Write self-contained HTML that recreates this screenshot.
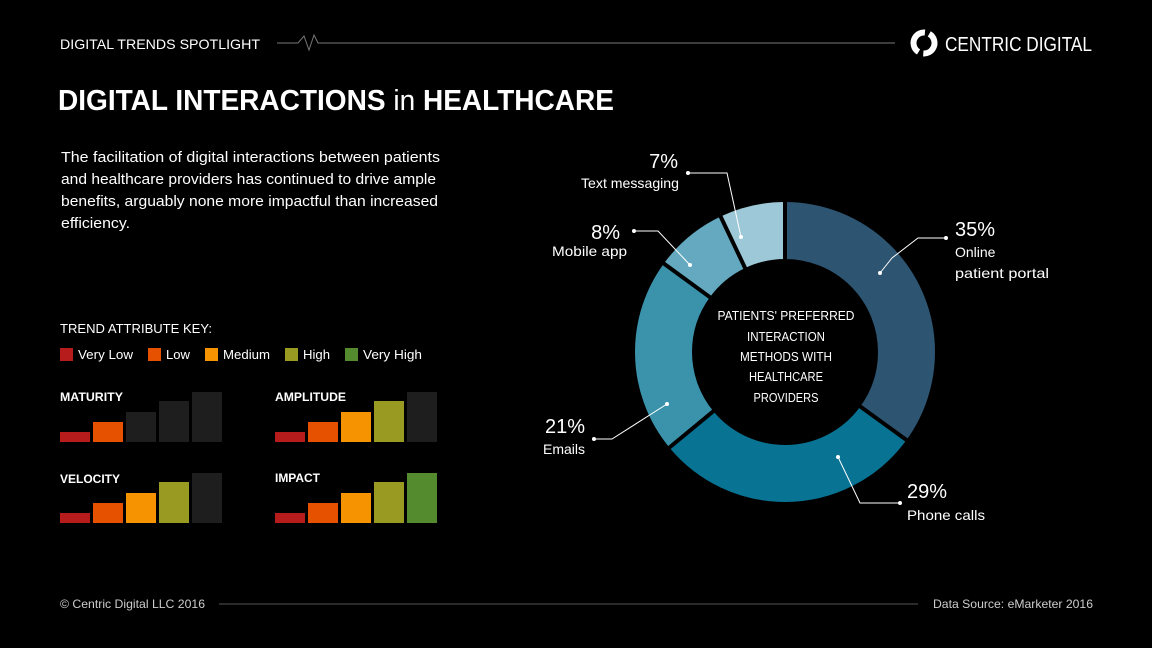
<!DOCTYPE html>
<html><head><meta charset="utf-8"><style>
html,body{margin:0;padding:0;background:#000;}
svg{display:block;font-family:"Liberation Sans",sans-serif;}
</style></head><body>
<svg width="1152" height="648" viewBox="0 0 1152 648" xmlns="http://www.w3.org/2000/svg">
<rect width="1152" height="648" fill="#000"/>
<!-- header -->
<text x="60" y="49" fill="#fff" font-size="14" textLength="200" lengthAdjust="spacingAndGlyphs">DIGITAL TRENDS SPOTLIGHT</text>
<polyline points="277,43 298,43 304,36 309,50 314,35 318,43 895,43" fill="none" stroke="#777" stroke-width="1"/>
<circle cx="924" cy="43" r="10.5" fill="none" stroke="#fff" stroke-width="6" stroke-dasharray="28 5" transform="rotate(-60 924 43)"/>
<text x="945" y="51" fill="#fff" font-size="20" textLength="147" lengthAdjust="spacingAndGlyphs">CENTRIC DIGITAL</text>
<!-- title -->
<text x="58" y="110" fill="#fff" font-size="29" font-weight="bold" textLength="556" lengthAdjust="spacingAndGlyphs">DIGITAL INTERACTIONS <tspan font-weight="normal">in</tspan> HEALTHCARE</text>
<!-- paragraph -->
<g fill="#fff" font-size="15">
<text x="61" y="162" textLength="379" lengthAdjust="spacingAndGlyphs">The facilitation of digital interactions between patients</text>
<text x="61" y="184" textLength="375" lengthAdjust="spacingAndGlyphs">and healthcare providers has continued to drive ample</text>
<text x="61" y="206" textLength="377" lengthAdjust="spacingAndGlyphs">benefits, arguably none more impactful than increased</text>
<text x="61" y="228" textLength="69" lengthAdjust="spacingAndGlyphs">efficiency.</text>
</g>
<!-- key -->
<text x="60" y="333" fill="#fff" font-size="13" textLength="152" lengthAdjust="spacingAndGlyphs">TREND ATTRIBUTE KEY:</text>
<g font-size="13" fill="#fff">
<rect x="60" y="348" width="13" height="13" fill="#b71c1c"/><text x="78" y="359" textLength="55" lengthAdjust="spacingAndGlyphs">Very Low</text>
<rect x="148" y="348" width="13" height="13" fill="#e65100"/><text x="166" y="359" textLength="24" lengthAdjust="spacingAndGlyphs">Low</text>
<rect x="205" y="348" width="13" height="13" fill="#f59300"/><text x="223" y="359" textLength="47" lengthAdjust="spacingAndGlyphs">Medium</text>
<rect x="285" y="348" width="13" height="13" fill="#999a22"/><text x="303" y="359" textLength="27" lengthAdjust="spacingAndGlyphs">High</text>
<rect x="345" y="348" width="13" height="13" fill="#558b2f"/><text x="363" y="359" textLength="59" lengthAdjust="spacingAndGlyphs">Very High</text>
</g>
<!-- bar groups -->
<g font-size="12" font-weight="bold" fill="#fff">
<text x="60" y="401" textLength="63" lengthAdjust="spacingAndGlyphs">MATURITY</text>
<text x="275" y="401" textLength="71" lengthAdjust="spacingAndGlyphs">AMPLITUDE</text>
<text x="60" y="483" textLength="60" lengthAdjust="spacingAndGlyphs">VELOCITY</text>
<text x="275" y="482" textLength="45" lengthAdjust="spacingAndGlyphs">IMPACT</text>
</g>
<g>
<rect x="60" y="432" width="30" height="10" fill="#b71c1c"/>
<rect x="93" y="422" width="30" height="20" fill="#e65100"/>
<rect x="126" y="412" width="30" height="30" fill="#1e1e1e"/>
<rect x="159" y="401" width="30" height="41" fill="#1e1e1e"/>
<rect x="192" y="392" width="30" height="50" fill="#1e1e1e"/>
<rect x="275" y="432" width="30" height="10" fill="#b71c1c"/>
<rect x="308" y="422" width="30" height="20" fill="#e65100"/>
<rect x="341" y="412" width="30" height="30" fill="#f59300"/>
<rect x="374" y="401" width="30" height="41" fill="#999a22"/>
<rect x="407" y="392" width="30" height="50" fill="#1e1e1e"/>
<rect x="60" y="513" width="30" height="10" fill="#b71c1c"/>
<rect x="93" y="503" width="30" height="20" fill="#e65100"/>
<rect x="126" y="493" width="30" height="30" fill="#f59300"/>
<rect x="159" y="482" width="30" height="41" fill="#999a22"/>
<rect x="192" y="473" width="30" height="50" fill="#1e1e1e"/>
<rect x="275" y="513" width="30" height="10" fill="#b71c1c"/>
<rect x="308" y="503" width="30" height="20" fill="#e65100"/>
<rect x="341" y="493" width="30" height="30" fill="#f59300"/>
<rect x="374" y="482" width="30" height="41" fill="#999a22"/>
<rect x="407" y="473" width="30" height="50" fill="#558b2f"/>
</g>
<!-- donut -->
<g transform="rotate(-90 785 352)" fill="none" stroke-width="57">
<circle cx="785" cy="352" r="121.5" pathLength="100" stroke="#2d5470" stroke-dasharray="35 65" stroke-dashoffset="0"/>
<circle cx="785" cy="352" r="121.5" pathLength="100" stroke="#087393" stroke-dasharray="29 71" stroke-dashoffset="-35"/>
<circle cx="785" cy="352" r="121.5" pathLength="100" stroke="#3a93ab" stroke-dasharray="21 79" stroke-dashoffset="-64"/>
<circle cx="785" cy="352" r="121.5" pathLength="100" stroke="#64a9bf" stroke-dasharray="8 92" stroke-dashoffset="-85"/>
<circle cx="785" cy="352" r="121.5" pathLength="100" stroke="#9cc8d7" stroke-dasharray="7 93" stroke-dashoffset="-93"/>
</g>
<g stroke="#000" stroke-width="4">
<line x1="785" y1="352" x2="785" y2="195"/>
<line x1="785" y1="352" x2="912" y2="444"/>
<line x1="785" y1="352" x2="664" y2="452"/>
<line x1="785" y1="352" x2="659" y2="260"/>
<line x1="785" y1="352" x2="718" y2="211"/>
</g>
<g fill="#fff" font-size="13" text-anchor="middle">
<text x="786" y="320" textLength="137" lengthAdjust="spacingAndGlyphs">PATIENTS' PREFERRED</text>
<text x="786" y="341" textLength="78" lengthAdjust="spacingAndGlyphs">INTERACTION</text>
<text x="786" y="361" textLength="92" lengthAdjust="spacingAndGlyphs">METHODS WITH</text>
<text x="786" y="381" textLength="74" lengthAdjust="spacingAndGlyphs">HEALTHCARE</text>
<text x="786" y="402" textLength="65" lengthAdjust="spacingAndGlyphs">PROVIDERS</text>
</g>
<!-- leaders -->
<g fill="none" stroke="#fff" stroke-width="1">
<polyline points="880,273 892,258 918,238 946,238"/>
<polyline points="838,457 860,503 877,503 900,503"/>
<polyline points="667,404 612,439 594,439"/>
<polyline points="690,265 658,231 634,231"/>
<polyline points="741,237 727,173 688,173"/>
</g>
<g fill="#fff">
<circle cx="880" cy="273" r="2"/><circle cx="946" cy="238" r="2"/>
<circle cx="838" cy="457" r="2"/><circle cx="900" cy="503" r="2"/>
<circle cx="667" cy="404" r="2"/><circle cx="594" cy="439" r="2"/>
<circle cx="690" cy="265" r="2"/><circle cx="634" cy="231" r="2"/>
<circle cx="741" cy="237" r="2"/><circle cx="688" cy="173" r="2"/>
</g>
<!-- labels -->
<g fill="#fff">
<text x="955" y="236" font-size="20">35%</text>
<text x="955" y="257" font-size="14">Online</text>
<text x="955" y="278" font-size="14" textLength="94" lengthAdjust="spacingAndGlyphs">patient portal</text>
<text x="907" y="498" font-size="20">29%</text>
<text x="907" y="520" font-size="14" textLength="78" lengthAdjust="spacingAndGlyphs">Phone calls</text>
<text x="585" y="433" font-size="20" text-anchor="end">21%</text>
<text x="585" y="454" font-size="14" text-anchor="end">Emails</text>
<text x="620" y="239" font-size="20" text-anchor="end">8%</text>
<text x="627" y="256" font-size="14" text-anchor="end" textLength="75" lengthAdjust="spacingAndGlyphs">Mobile app</text>
<text x="678" y="168" font-size="20" text-anchor="end">7%</text>
<text x="679" y="188" font-size="14" text-anchor="end" textLength="98" lengthAdjust="spacingAndGlyphs">Text messaging</text>
</g>
<!-- footer -->
<text x="60" y="608" fill="#ccc" font-size="12" textLength="145" lengthAdjust="spacingAndGlyphs">© Centric Digital LLC 2016</text>
<line x1="219" y1="604" x2="918" y2="604" stroke="#555" stroke-width="1"/>
<text x="933" y="608" fill="#ccc" font-size="12" textLength="160" lengthAdjust="spacingAndGlyphs">Data Source: eMarketer 2016</text>
</svg>
</body></html>
